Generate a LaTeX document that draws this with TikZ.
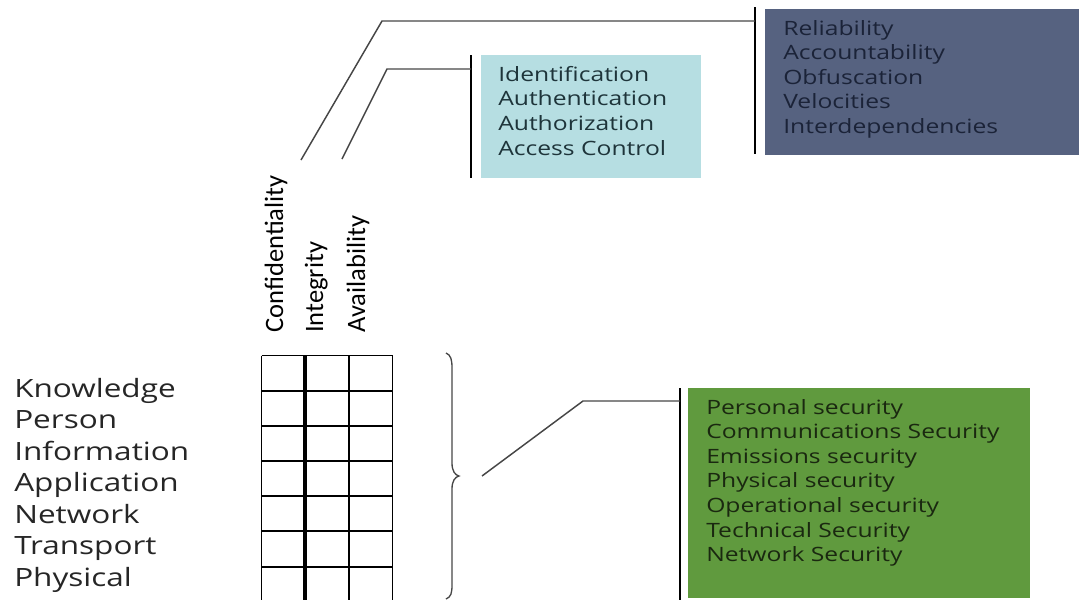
\documentclass[tikz,border=0pt]{standalone}
\usepackage{fontspec}
\setmainfont{Open Sans}[FakeStretch=1.25]
\newfontfamily\calib{Carlito}
\definecolor{darkbox}{RGB}{86,98,128}
\definecolor{darktxt}{RGB}{27,35,56}
\definecolor{cyanbox}{RGB}{182,222,226}
\definecolor{cyantxt}{RGB}{30,52,58}
\definecolor{greenbox}{RGB}{96,154,62}
\definecolor{greentxt}{RGB}{26,40,16}
\definecolor{linkgray}{RGB}{70,70,70}
\tikzset{
  lbl/.style={anchor=base west, inner sep=0pt, font=\fontsize{18.9}{22}\selectfont, text=black!85},
  boxtxt/.style={anchor=base west, inner sep=0pt, font=\fontsize{14.8}{18}\selectfont},
  vlbl/.style={anchor=base west, rotate=90, inner sep=0pt, font=\calib\fontsize{19.9}{22}\selectfont},
  panel/.style={draw=none, inner sep=0pt},
  link/.style={draw=linkgray, line width=1.1pt},
  bar/.style={draw=black, line width=1.1pt},
  gridline/.style={line width=1.7pt},
  gridouter/.style={line width=1.1pt},
  gridthick/.style={line width=2.8pt},
}
\begin{document}
\begin{tikzpicture}[x=0.75pt,y=-0.75pt]
\useasboundingbox (0,0) rectangle (1079,600);
% panels
\node[panel, fill=darkbox, minimum width=235.5pt, minimum height=109.5pt] (dark) at (922,82) {};
\node[panel, fill=cyanbox, minimum width=165pt, minimum height=92.25pt] (cyan) at (591,116.5) {};
\node[panel, fill=greenbox, minimum width=256.5pt, minimum height=157.5pt] (green) at (859,493) {};
% bars
\coordinate (b1t) at (755,7); \coordinate (b1b) at (755,154);
\coordinate (b2t) at (471,55); \coordinate (b2b) at (471,178);
\coordinate (b3t) at (680,388); \coordinate (b3b) at (680,600);
\draw[bar] (b1t) -- (b1b);
\draw[bar] (b2t) -- (b2b);
\draw[bar] (b3t) -- (b3b);
% texts in panels
\foreach \t [count=\i from 0] in {Reliability,Accountability,Obfuscation,Velocities,Interdependencies}
  \node[boxtxt, text=darktxt] (d\i) at (783,{35+24.6*\i}) {\t};
\foreach \t [count=\i from 0] in {Identification,Authentication,Authorization,Access Control}
  \node[boxtxt, text=cyantxt] (c\i) at (498,{81+24.8*\i}) {\t};
\foreach \t [count=\i from 0] in {Personal security,Communications Security,Emissions security,Physical security,Operational security,Technical Security,Network Security}
  \node[boxtxt, text=greentxt] (g\i) at (706,{414+24.6*\i}) {\t};
% left labels
\foreach \t [count=\i from 0] in {Knowledge,Person,Information,Application,Network,Transport,Physical}
  \node[lbl] (l\i) at (14,{397+31.5*\i}) {\t};
% vertical labels
\node[vlbl] (conf) at (283,333) {Confidentiality};
\node[vlbl] (integ) at (323,333) {Integrity};
\node[vlbl] (avail) at (365,333) {Availability};
% grid
\foreach \y in {390.7,426,460.7,495.7,531,566.7}
  \draw[gridline] (261.5,\y) -- (392.7,\y);
\draw[gridouter] (261.5,355.5) -- (392.7,355.5);
\draw[gridouter] (261.5,355.5) -- (261.5,600);
\draw[gridthick] (305,355.5) -- (305,600);
\draw[gridline] (349.3,355.5) -- (349.3,600);
\draw[gridouter] (392.7,355.5) -- (392.7,600);
% brace
\coordinate (brtip) at (459,476);
\draw[draw=linkgray, line width=1pt] (446,353) .. controls (451,355) and (452,360) .. (452,368)
  -- (452,463) .. controls (452,471) and (455,475) .. (brtip)
  .. controls (455,477) and (452,481) .. (452,489)
  -- (452,585) .. controls (452,593) and (451,597) .. (446,599);
% links
\coordinate (s1) at (301,160); \coordinate (k1) at (382,21); \coordinate (e1) at (755,21);
\coordinate (s2) at (342,159); \coordinate (k2) at (387,69); \coordinate (e2) at (471,69);
\coordinate (s3) at (482,476); \coordinate (k3) at (583,401); \coordinate (e3) at (680,401);
\draw[link] (s1) -- (k1) -- (e1);
\draw[link] (s2) -- (k2) -- (e2);
\draw[link] (s3) -- (k3) -- (e3);
\end{tikzpicture}
\end{document}
